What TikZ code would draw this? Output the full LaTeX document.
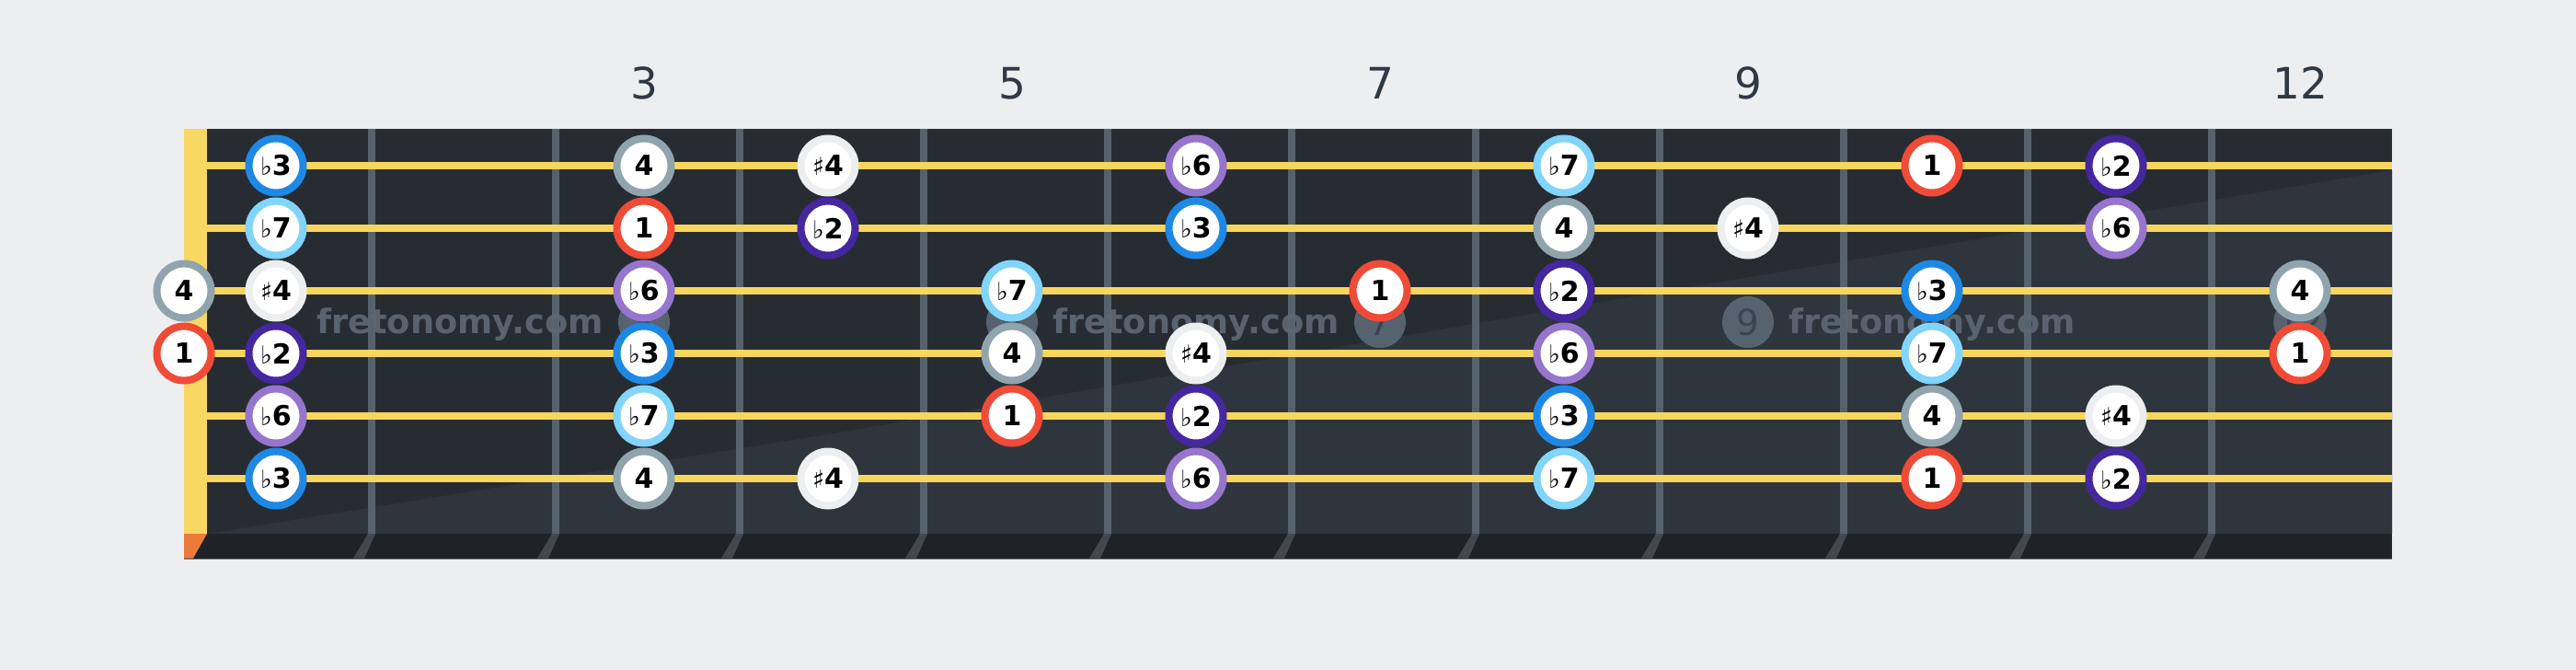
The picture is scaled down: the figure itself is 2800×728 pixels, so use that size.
\documentclass[tikz,border=0pt]{standalone}
\usepackage{fontspec}
\setmainfont{DejaVu Sans}
\definecolor{bg}{HTML}{EDEEF0}
\definecolor{board}{HTML}{272C33}
\definecolor{boardlight}{HTML}{2F353C}
\definecolor{strip}{HTML}{1F2328}
\definecolor{stripline}{HTML}{7B838C}
\definecolor{fretshadow}{HTML}{44484E}
\definecolor{fretc}{HTML}{56626E}
\definecolor{strc}{HTML}{F8D65E}
\definecolor{nutc}{HTML}{F8D862}
\definecolor{nutbot}{HTML}{EC7A3A}
\definecolor{cR}{HTML}{F04B37}
\definecolor{cBtwo}{HTML}{45279F}
\definecolor{cBthree}{HTML}{1E88E5}
\definecolor{cF}{HTML}{90A4AE}
\definecolor{cSfour}{HTML}{ECEEF0}
\definecolor{cBsix}{HTML}{9575CD}
\definecolor{cBseven}{HTML}{81D4FA}
\definecolor{numc}{HTML}{2F3944}
\definecolor{markc}{HTML}{56626E}
\definecolor{marktxt}{HTML}{3A4550}
\definecolor{wmc}{HTML}{5E6975}
\newcommand\myflat{{\mdseries\fontsize{27}{27}\selectfont ♭}}
\newcommand\mysharp{{\mdseries\fontsize{27}{27}\selectfont ♯}}
\expandafter\def\csname Lr\endcsname{1}
\expandafter\def\csname Lb2\endcsname{\myflat 2}
\expandafter\def\csname Lb3\endcsname{\myflat 3}
\expandafter\def\csname Lp4\endcsname{4}
\expandafter\def\csname Ls4\endcsname{\mysharp 4}
\expandafter\def\csname Lb6\endcsname{\myflat 6}
\expandafter\def\csname Lb7\endcsname{\myflat 7}
\tikzset{
  note/.style={circle, fill=white, line width=8pt, minimum size=59pt, inner sep=0pt,
    font=\fontsize{30}{30}\selectfont\bfseries, text=black},
  t-r/.style={note, draw=cR},
  t-b2/.style={note, draw=cBtwo},
  t-b3/.style={note, draw=cBthree},
  t-p4/.style={note, draw=cF},
  t-s4/.style={note, draw=cSfour},
  t-b6/.style={note, draw=cBsix},
  t-b7/.style={note, draw=cBseven},
  marker/.style={circle, fill=markc, minimum size=56pt, inner sep=0pt,
    font=\fontsize{39}{39}\selectfont, text=marktxt},
  watermark/.style={anchor=base, inner sep=0pt, text=wmc, text opacity=0.9,
    font=\fontsize{36.7}{36.7}\selectfont\bfseries},
  fretnum/.style={anchor=base, inner sep=0pt, text=numc,
    font=\fontsize{47}{47}\selectfont},
}
\begin{document}
\begin{tikzpicture}[x=1pt, y=-1pt]
  % background and bounding box
  \fill[bg] (0,0) rectangle (2800,728);
  \useasboundingbox (0,0) rectangle (2800,728);
  % fretboard
  \fill[board] (225,140) rectangle (2600,580);
  \fill[boardlight] (225,580) -- (900,472) -- (1800,318) -- (2600,185) -- (2600,580) -- cycle;
  % frets
  \foreach \n in {1,...,11} {
    \fill[fretc] ({200+200*\n},140) rectangle ({208+200*\n},580);
  }
  % bottom strip
  \fill[strip] (200,580) rectangle (2600,608);
  \draw[stripline, line width=1.5pt] (200,607.25) -- (2600,607.25);
  \foreach \n in {1,...,11} {
    \fill[fretshadow] ({200+200*\n},580) -- ({208+200*\n},580) -- ({196+200*\n},606.5) -- ({184+200*\n},606.5) -- cycle;
  }
  % nut
  \fill[nutc] (200,140) rectangle (225,580);
  \fill[nutbot] (200,580) -- (225,580) -- (210,606.5) -- (200,606.5) -- cycle;
  % strings
  \foreach \s in {1,...,6} {
    \draw[strc, line width=8pt] (225,{180+68*(\s-1)}) -- (2600,{180+68*(\s-1)});
  }
  % fret markers
  \foreach \m/\xx in {3/700,5/1100,7/1500,9/1900,12/2500} {
    \node[marker] (m\m) at (\xx,350) {\m};
  }
  % watermarks
  \node[watermark] (wm1) at (500,362) {fretonomy.com};
  \node[watermark] (wm2) at (1300,362) {fretonomy.com};
  \node[watermark] (wm3) at (2100,362) {fretonomy.com};
  % notes
  \foreach \s/\f/\t in {
    1/1/b3, 1/3/p4, 1/4/s4, 1/6/b6, 1/8/b7, 1/10/r, 1/11/b2,
    2/1/b7, 2/3/r, 2/4/b2, 2/6/b3, 2/8/p4, 2/9/s4, 2/11/b6,
    3/0/p4, 3/1/s4, 3/3/b6, 3/5/b7, 3/7/r, 3/8/b2, 3/10/b3, 3/12/p4,
    4/0/r, 4/1/b2, 4/3/b3, 4/5/p4, 4/6/s4, 4/8/b6, 4/10/b7, 4/12/r,
    5/1/b6, 5/3/b7, 5/5/r, 5/6/b2, 5/8/b3, 5/10/p4, 5/11/s4,
    6/1/b3, 6/3/p4, 6/4/s4, 6/6/b6, 6/8/b7, 6/10/r, 6/11/b2} {
    \pgfmathsetmacro\xx{\f==0 ? 200 : 100+200*\f}
    \pgfmathsetmacro\yy{180+68*(\s-1)}
    \node[t-\t] (n\s-\f) at (\xx,\yy) {\csname L\t\endcsname};
  }
  % fret numbers
  \node[fretnum] (f3) at (700,107) {3};
  \node[fretnum] (f5) at (1100,107) {5};
  \node[fretnum] (f7) at (1500,107) {7};
  \node[fretnum] (f9) at (1900,107) {9};
  \node[fretnum] (f12) at (2500,107) {12};
\end{tikzpicture}
\end{document}
